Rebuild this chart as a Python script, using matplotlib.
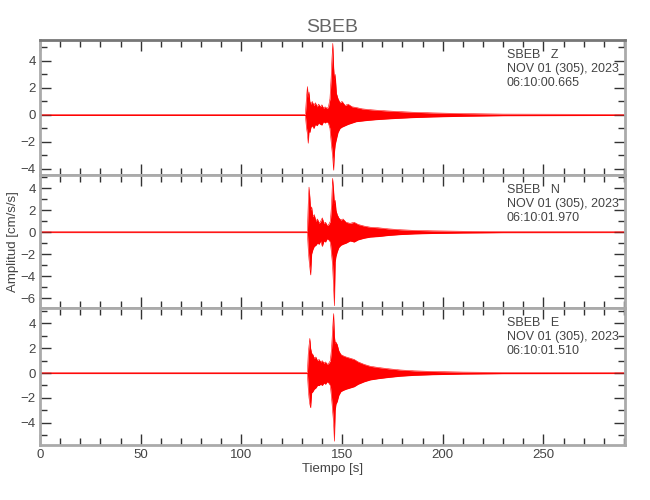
# Three-component accelerogram, station SBEB
import numpy as np
import matplotlib
matplotlib.use('Agg')
import matplotlib.pyplot as plt
from matplotlib.ticker import MultipleLocator

# Constants
STATION = 'SBEB'
COMPONENTS = ['Z', 'N', 'E']
DATE_TEXT = 'NOV 01 (305), 2023'
START_TIMES = ['06:10:00.665', '06:10:01.970', '06:10:01.510']
Y_LIMITS = [(-4.45, 5.55), (-6.9, 5.2), (-5.8, 5.25)]
X_MAX = 290.5
X_TICKS = [0, 50, 100, 150, 200, 250]

# Envelope of each trace (time [s], upper, lower)
T_Z = [0, 131.8, 132.3, 132.8, 133.2, 133.6, 134.0, 134.6, 135.2, 136.0,
       136.8, 137.6, 138.4, 139.2, 140.0, 140.8, 141.6, 142.4, 143.2, 144.0,
       144.6, 145.0, 145.4, 145.8, 146.2, 146.6, 147.2, 148.0, 149.0, 150.0,
       151.5, 153.0, 155.0, 157.0, 160.0, 163.0, 167.0, 172.0, 178.0, 185.0,
       195.0, 210.0, 230.0, 290]
UP_Z = [0.04, 0.04, 1.2, 2.1, 1.3, 1.7, 1.0, 0.8, 1.0, 0.7,
        0.9, 0.6, 0.8, 0.6, 0.75, 0.5, 0.6, 0.5, 0.55, 1.2,
        2.8, 4.2, 5.3, 3.6, 2.6, 3.0, 1.6, 1.2, 0.9, 1.0,
        0.7, 0.8, 0.6, 0.55, 0.45, 0.4, 0.35, 0.3, 0.25, 0.2,
        0.15, 0.1, 0.06, 0.04]
LO_Z = [-0.04, -0.04, -0.9, -1.4, -2.1, -1.2, -1.3, -0.9, -0.8, -1.0,
        -0.7, -0.8, -0.6, -0.7, -0.75, -0.5, -0.6, -0.5, -0.6, -1.0,
        -2.0, -2.6, -3.2, -4.1, -2.8, -2.2, -1.8, -1.3, -1.0, -0.9,
        -0.8, -0.7, -0.6, -0.5, -0.45, -0.4, -0.35, -0.3, -0.25, -0.2,
        -0.15, -0.1, -0.06, -0.04]

T_N = [0, 132.8, 133.2, 133.6, 134.0, 134.4, 134.9, 135.5, 136.2, 137.0,
       137.8, 138.6, 139.4, 140.2, 141.0, 141.8, 142.6, 143.4, 144.2, 144.8,
       145.3, 145.8, 146.2, 146.6, 147.0, 147.6, 148.4, 149.4, 150.5, 152.0,
       154.0, 156.0, 158.0, 161.0, 164.0, 168.0, 173.0, 179.0, 186.0, 195.0,
       210.0, 230.0, 290]
UP_N = [0.04, 0.04, 2.5, 4.1, 3.2, 2.0, 2.3, 1.4, 1.6, 1.0,
        1.2, 0.8, 1.0, 1.3, 0.8, 0.9, 0.6, 0.7, 1.0, 2.5,
        4.9, 3.8, 2.6, 2.9, 2.0, 1.6, 1.3, 1.1, 1.2, 0.9,
        0.8, 0.9, 0.7, 0.55, 0.45, 0.4, 0.3, 0.22, 0.16, 0.12,
        0.08, 0.05, 0.04]
LO_N = [-0.04, -0.04, -1.5, -2.5, -3.2, -3.9, -2.0, -1.6, -1.3, -1.2,
        -1.0, -1.1, -0.8, -1.3, -0.8, -0.9, -0.6, -0.7, -0.9, -2.0,
        -3.0, -5.0, -6.7, -2.7, -2.2, -1.8, -1.4, -1.2, -1.1, -1.0,
        -0.8, -0.9, -0.7, -0.55, -0.45, -0.4, -0.3, -0.22, -0.16, -0.12,
        -0.08, -0.05, -0.04]

T_E = T_N
UP_E = [0.04, 0.04, 1.5, 2.2, 2.8, 2.0, 1.6, 1.5, 1.2, 1.3,
        1.0, 1.1, 0.9, 1.0, 0.8, 0.9, 0.7, 0.8, 1.0, 2.0,
        3.5, 4.8, 3.0, 2.4, 2.5, 2.3, 1.8, 1.5, 1.4, 1.3,
        1.2, 1.1, 0.9, 0.7, 0.55, 0.45, 0.35, 0.25, 0.18, 0.13,
        0.08, 0.05, 0.04]
LO_E = [-0.04, -0.04, -1.2, -2.0, -2.5, -2.8, -1.6, -1.5, -1.3, -1.2,
        -1.0, -1.0, -0.9, -1.0, -0.8, -0.9, -0.7, -0.8, -1.0, -2.0,
        -3.0, -4.0, -5.5, -3.0, -2.5, -2.3, -1.8, -1.5, -1.4, -1.3,
        -1.2, -1.1, -0.9, -0.7, -0.55, -0.45, -0.35, -0.25, -0.18, -0.13,
        -0.08, -0.05, -0.04]

TRACES = [(T_Z, UP_Z, LO_Z), (T_N, UP_N, LO_N), (T_E, UP_E, LO_E)]

TEXT_COLOR = '#444444'
SPINE_COLOR = '#aaaaaa'

plt.rcParams['font.family'] = ['Liberation Sans', 'DejaVu Sans']

fig = plt.figure(figsize=(6.5, 5), dpi=100)
gs = fig.add_gridspec(3, 1, left=0.0615, right=0.9615, top=0.92, bottom=0.11,
                      hspace=0, height_ratios=[135, 133, 137])

axes = []
for i, comp in enumerate(COMPONENTS):
    ax = fig.add_subplot(gs[i])
    axes.append(ax)
    t, up, lo = TRACES[i]
    ax.fill_between(t, lo, up, color='#ff0000', linewidth=0)
    ax.plot(t, up, color='red', lw=0.4)
    ax.plot(t, lo, color='red', lw=0.4)
    ax.set_xlim(0, X_MAX)
    ax.set_ylim(*Y_LIMITS[i])
    ax.xaxis.set_major_locator(MultipleLocator(50))
    ax.xaxis.set_minor_locator(MultipleLocator(10))
    ax.yaxis.set_major_locator(MultipleLocator(2))
    ax.yaxis.set_minor_locator(MultipleLocator(1))
    ax.tick_params(which='both', direction='in', top=True, right=True,
                   colors='#333333', labelcolor=TEXT_COLOR, labelsize=9.5)
    ax.tick_params(which='major', length=8, width=1, pad=3)
    ax.tick_params(which='minor', length=5, width=1)
    for s in ax.spines.values():
        s.set_color(SPINE_COLOR)
        s.set_linewidth(2)
    if i < 2:
        ax.tick_params(labelbottom=False)
    else:
        ax.set_xticks(X_TICKS)
    ax.text(0.798, 0.935, f'{STATION}   {comp}\n{DATE_TEXT}\n{START_TIMES[i]}',
            transform=ax.transAxes, ha='left', va='top', fontsize=9,
            color=TEXT_COLOR, linespacing=1.25)

axes[0].spines['top'].set_color('#777777')
axes[0].set_title(STATION, fontsize=14, color='#666666', pad=6)
axes[1].set_ylabel('Amplitud [cm/s/s]', fontsize=9.5, color=TEXT_COLOR)
axes[1].yaxis.set_label_coords(-0.036, 0.5)
axes[2].set_xlabel('Tiempo [s]', fontsize=9.5, color=TEXT_COLOR, labelpad=1)

plt.savefig('out.png', dpi=100)
